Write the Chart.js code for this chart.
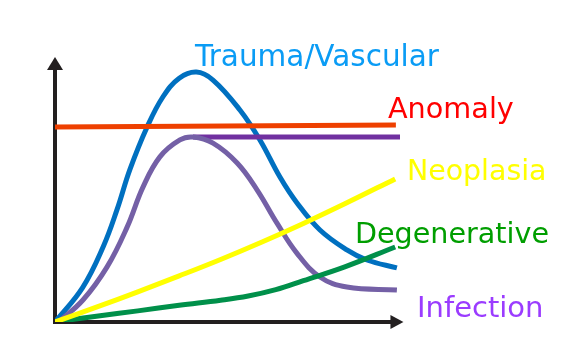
<!DOCTYPE html>
<html>
<head>
<meta charset="utf-8">
<script src="https://cdn.jsdelivr.net/npm/chart.js@4.4.0/dist/chart.umd.min.js"></script>
<style>
    html, body { margin: 0; padding: 0; background: #fff; }
    #wrap { width: 588px; height: 351px; }
</style>
</head>
<body>
<div id="wrap"><canvas id="chart" width="588" height="351"></canvas></div>
<script>
// Curves, x = time (0..100), y = severity (0..100)
const traumaPoints = [[0, 0], [8, 13], [14, 28.5], [18, 42.5], [21.7, 57.5], [26.7, 73.6], [31.3, 85], [36, 92], [41, 94.3], [45.8, 91.3], [53.6, 80], [59.4, 68.7], [65.2, 54.7], [70.1, 45], [76.8, 34.7], [84.6, 27.2], [90.4, 23.4], [99.1, 20.4]];
const anomalyPoints = [[0, 73.6], [98.8, 74.3]];
const infectionPoints = [[1, 0], [8.1, 8.3], [15.1, 20.8], [20.9, 35.8], [25.5, 50.9], [30.4, 62.3], [36.2, 68.7], [40, 69.8], [45.8, 67.5], [52.8, 60], [58.6, 49.8], [64.3, 37.4], [70.1, 26], [76.8, 17], [84.6, 13.2], [99.1, 12.1]];
const infectionPlateau = [[40, 69.8], [100, 69.8]];
const neoplasiaPoints = [[0, 0], [12, 5.6], [24, 11.4], [36, 17.4], [48, 23.6], [60, 30.2], [72, 37.2], [84, 44.6], [98.6, 54]];
const degenerativePoints = [[0, 0], [12, 2.2], [24, 4.2], [36, 6.3], [48, 8.2], [56, 9.8], [64, 12.2], [72, 15.6], [84, 20.8], [98.6, 28.3]];

const labelTexts = ["Trauma/Vascular", "Anomaly", "Neoplasia", "Degenerative", "Infection"];
const labelColors = ["#0a9cf5", "#ff0000", "#ffff00", "#009e00", "#9b3cff"];
// left x, baseline y in pixels, font size
const labelPlaces = [[195, 66, 29.5], [388, 118, 28.7], [407, 180, 28.4], [355, 243, 28.6], [417, 317, 29]];

const toXY = pts => pts.map(p => ({ x: p[0], y: p[1] }));

const line = (label, pts, color, width) => ({
    label: label,
    data: toXY(pts),
    borderColor: color,
    borderWidth: width,
    pointRadius: 0,
    fill: false,
    tension: 0.4,
    borderCapStyle: "butt"
});

const axesPlugin = {
    id: "arrowAxes",
    beforeDatasetsDraw(chart) {
        const { ctx, scales } = chart;
        const x0 = scales.x.getPixelForValue(0);
        const y0 = scales.y.getPixelForValue(0);
        const yTop = scales.y.getPixelForValue(100);
        const xEnd = scales.x.getPixelForValue(101);
        ctx.save();
        ctx.strokeStyle = "#231f20";
        ctx.fillStyle = "#231f20";
        ctx.lineWidth = 4;
        ctx.beginPath();
        ctx.moveTo(x0, y0 + 2);
        ctx.lineTo(x0, yTop + 10);
        ctx.moveTo(x0 - 2, y0);
        ctx.lineTo(xEnd - 10, y0);
        ctx.stroke();
        // arrow heads
        ctx.beginPath();
        ctx.moveTo(x0, yTop);
        ctx.lineTo(x0 + 8, yTop + 13);
        ctx.lineTo(x0 - 8, yTop + 13);
        ctx.closePath();
        ctx.fill();
        ctx.beginPath();
        ctx.moveTo(xEnd, y0);
        ctx.lineTo(xEnd - 13, y0 - 7);
        ctx.lineTo(xEnd - 13, y0 + 7);
        ctx.closePath();
        ctx.fill();
        ctx.restore();
    },
    afterDatasetsDraw(chart) {
        const { ctx } = chart;
        ctx.save();
        ctx.textAlign = "left";
        ctx.textBaseline = "alphabetic";
        labelTexts.forEach((text, i) => {
            const [x, y, size] = labelPlaces[i];
            ctx.font = size + "px 'DejaVu Sans', Verdana, sans-serif";
            ctx.fillStyle = labelColors[i];
            ctx.fillText(text, x, y);
        });
        ctx.restore();
    }
};

new Chart(document.getElementById("chart"), {
    type: "line",
    data: {
        datasets: [
            line("Anomaly", anomalyPoints, "#ee4000", 5),
            line("Neoplasia", neoplasiaPoints, "#ffff00", 5),
            line("Degenerative", degenerativePoints, "#00904a", 5),
            line("Infection", infectionPoints, "#7460a6", 5),
            line("Infection plateau", infectionPlateau, "#7030a0", 5),
            line("Trauma/Vascular", traumaPoints, "#0070c0", 5)
        ]
    },
    options: {
        responsive: false,
        animation: false,
        layout: { padding: { left: 55, right: 188, top: 57, bottom: 29 } },
        scales: {
            x: { type: "linear", min: 0, max: 100, display: false },
            y: { type: "linear", min: 0, max: 100, display: false }
        },
        plugins: {
            legend: { display: false },
            tooltip: { enabled: false }
        }
    },
    plugins: [axesPlugin]
});
</script>
</body>
</html>
